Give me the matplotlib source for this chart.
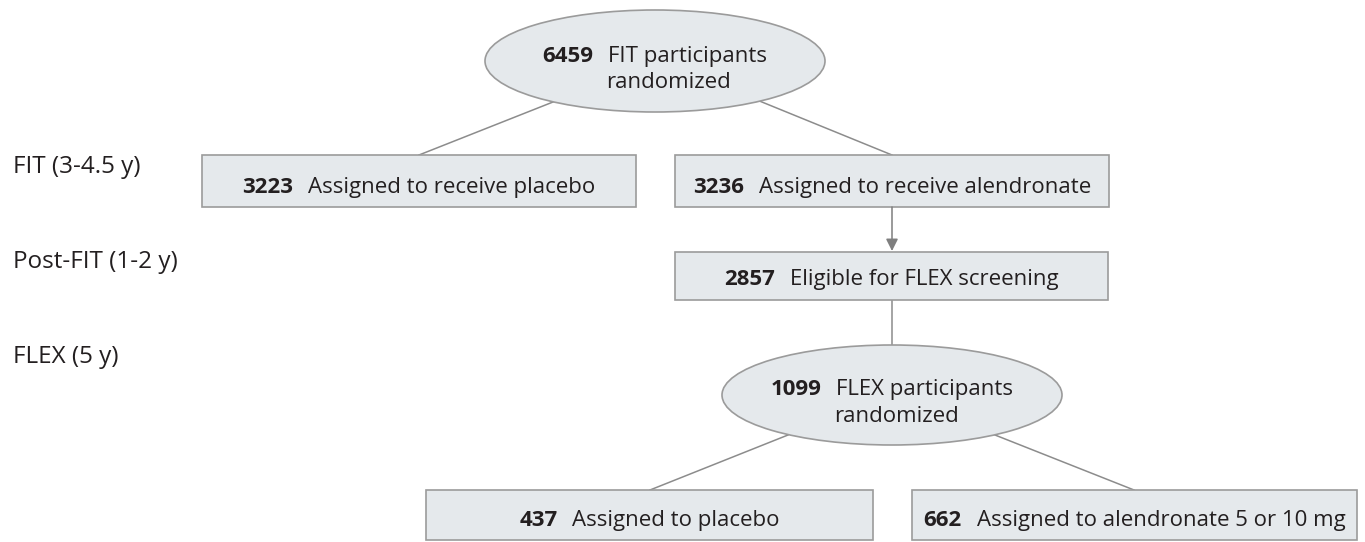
import matplotlib
matplotlib.use("Agg")
import matplotlib.pyplot as plt
from matplotlib.patches import Ellipse, Rectangle

plt.rcParams['font.family'] = ['Open Sans', 'DejaVu Sans']

# phase labels on the left
phases = ['FIT (3-4.5 y)', 'Post-FIT (1-2 y)', 'FLEX (5 y)']
phase_y = [173, 268, 363]

# flow nodes: number, text
box_nums = ['3223', '3236', '2857', '437', '662']
box_texts = ['Assigned to receive placebo', 'Assigned to receive alendronate',
             'Eligible for FLEX screening', 'Assigned to placebo',
             'Assigned to alendronate 5 or 10 mg']
ell_nums = ['6459', '1099']
ell_texts = ['FIT participants', 'FLEX participants']

# layout (pixels)
box_x = [(202, 636), (675, 1109), (675, 1108), (426, 873), (912, 1357)]
box_y = [(155, 207), (155, 207), (252, 300), (490, 540), (490, 540)]
box_base = [193, 193, 285, 526, 526]
ell_c = [(655, 61), (892, 395)]
ell_wh = [(340, 102), (340, 100)]
ell_base = [(62, 88), (395, 422)]
ell_l2x = [668, 896]

FILL = '#e5e9ec'
EDGE = '#9b9b9b'
LINE = '#8c8c8c'
TXT = '#231f20'
FS = 16

fig = plt.figure(figsize=(13.65, 5.42), dpi=100)
ax = fig.add_axes([0, 0, 1, 1])
ax.set_xlim(0, 1365)
ax.set_ylim(542, 0)
ax.axis('off')
r = fig.canvas.get_renderer()


def two_part(cx, y, num, txt, gap=15):
    a = ax.text(0, y, num, fontsize=FS, fontweight='bold', color=TXT, va='baseline', ha='left')
    b = ax.text(0, y, txt, fontsize=FS, color=TXT, va='baseline', ha='left')
    wa = a.get_window_extent(r).width
    wb = b.get_window_extent(r).width
    w = wa + gap + wb
    x0 = cx - w / 2
    a.set_x(x0)
    b.set_x(x0 + wa + gap)


# connectors
segs = [((553, 102), (419, 155)), ((757, 100), (892, 155)),
        ((892, 300), (892, 345)), ((788, 435), (650, 490)), ((995, 435), (1134, 490))]
for (x1, y1), (x2, y2) in segs:
    ax.plot([x1, x2], [y1, y2], color=LINE, lw=1.1, zorder=1)
ax.annotate('', xy=(892, 251), xytext=(892, 207),
            arrowprops=dict(arrowstyle='-|>', color='#7f7f7f', lw=1.1,
                            mutation_scale=18, shrinkA=0, shrinkB=0))

for i in range(len(box_nums)):
    x0, x1 = box_x[i]
    y0, y1 = box_y[i]
    ax.add_patch(Rectangle((x0, y0), x1 - x0, y1 - y0, facecolor=FILL,
                           edgecolor=EDGE, lw=1.2, zorder=2))
    two_part((x0 + x1) / 2, box_base[i], box_nums[i], box_texts[i])

for i in range(len(ell_nums)):
    cx, cy = ell_c[i]
    w, h = ell_wh[i]
    ax.add_patch(Ellipse((cx, cy), w, h, facecolor=FILL, edgecolor=EDGE, lw=1.2, zorder=2))
    two_part(cx, ell_base[i][0], ell_nums[i], ell_texts[i])
    ax.text(ell_l2x[i], ell_base[i][1], 'randomized', fontsize=FS, color=TXT,
            va='baseline', ha='center')

for p, y in zip(phases, phase_y):
    ax.text(13, y, p, fontsize=17.5, color=TXT, va='baseline', ha='left')

fig.savefig('out.png', dpi=100)
